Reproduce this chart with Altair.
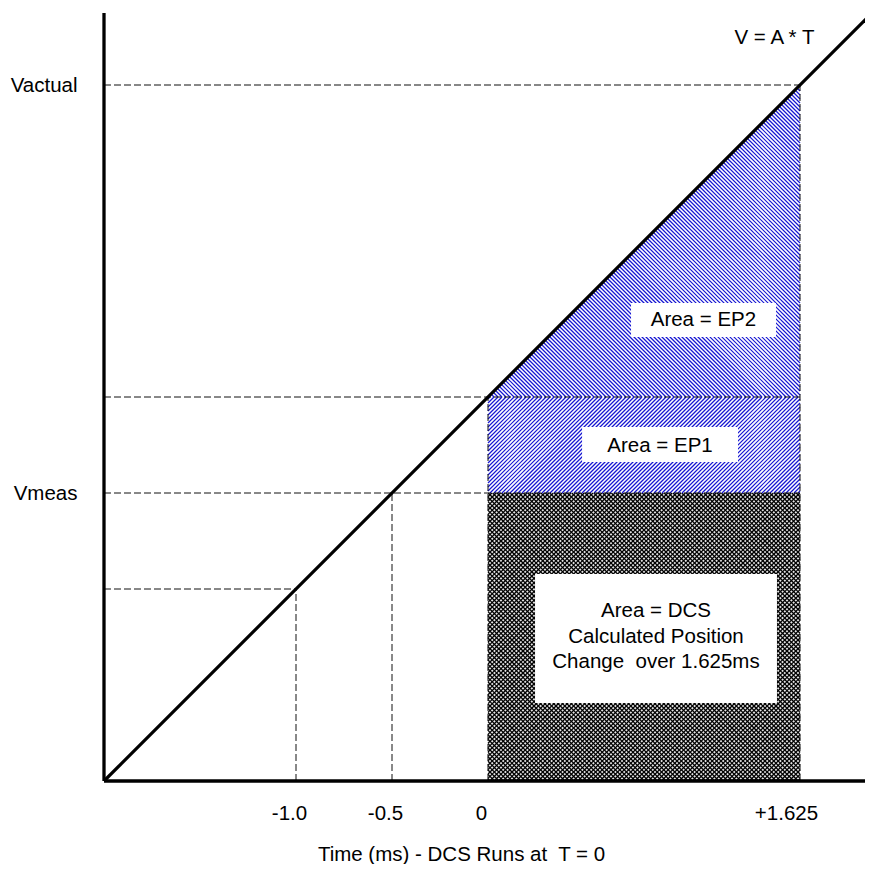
import altair as alt
import pandas as pd

# ---------------- data ----------------
x_tick_values = [-1.0, -0.5, 0.0, 1.625]
x_tick_labels = ["-1.0", "-0.5", "0", "+1.625"]
y_tick_values = [1.5, 3.625]
y_tick_labels = ["Vmeas", "Vactual"]

# V = A * T line (time, velocity)
line_t = [-2.0, 2.0]
line_v = [0.0, 4.0]

# axis lines
axis_t1 = [-2.0, -2.0]
axis_t2 = [2.0, -2.0]
axis_v1 = [0.0, 0.0]
axis_v2 = [0.0, 4.0]

# regions
t_dcs_start = 0.0
t_dcs_end = 1.625
v_meas = 1.5
v_at_zero = 2.0
v_actual = 3.625

# dashed guide segments
guide_t1 = [-2.0, -2.0, -2.0, -2.0, -1.0, -0.5, 0.0, 1.625]
guide_v1 = [3.625, 2.0, 1.5, 1.0, 0.0, 0.0, 0.0, 0.0]
guide_t2 = [1.625, 1.625, 1.625, -1.0, -1.0, -0.5, 0.0, 1.625]
guide_v2 = [3.625, 2.0, 1.5, 1.0, 1.0, 1.5, 2.0, 3.625]

# white label boxes
box_t1 = [0.745, 0.490, 0.245]
box_t2 = [1.500, 1.302, 1.505]
box_v1 = [2.3125, 1.661, 0.406]
box_v2 = [2.490, 1.844, 1.078]

# annotation texts
text_lines = ["Area = EP2", "Area = EP1", "Area = DCS", "Calculated Position",
              "Change\u00a0 over 1.625ms", "V = A * T"]
text_t = [1.122, 0.896, 0.875, 0.875, 0.875, 1.492]
text_v = [2.370, 1.714, 0.854, 0.719, 0.589, 3.838]

# ---------------- layout / style ----------------
FONT = "Liberation Sans"
FS = 20.5
PX = 192.0                 # pixels per data unit (both axes)
W = 761                    # plot width (page is 873 wide incl. 8px margins)
H = 768
X_DOM = [-2.0, -2.0 + W / PX]
Y_DOM = [0.0, H / PX]


def hatch_rect(t1, t2, v1, v2, step, direction):
    """45-degree hatch segments clipped to a rectangle (style only)."""
    rows = []
    if direction == "/":
        c = v1 - t2 + step / 2
        while c < v2 - t1:
            ta, tb = max(t1, v1 - c), min(t2, v2 - c)
            if tb > ta:
                rows.append((ta, ta + c, tb, tb + c))
            c += step
    else:
        c = v1 + t1 + step / 2
        while c < v2 + t2:
            ta, tb = max(t1, c - v2), min(t2, c - v1)
            if tb > ta:
                rows.append((ta, c - ta, tb, c - tb))
            c += step
    return pd.DataFrame(rows, columns=["t1", "v1", "t2", "v2"])


def hatch_triangle(t1, t2, v0, step):
    """'\\' hatch inside triangle bounded by V=v0, T=t2 and V=v0+(T-t1)."""
    rows = []
    c = v0 + t1 + step / 2
    while c < v0 + 2 * t2 - t1:
        ta = max(t1, (c - v0 + t1) / 2)
        tb = min(t2, c - v0)
        if tb > ta:
            rows.append((ta, c - ta, tb, c - tb))
        c += step
    return pd.DataFrame(rows, columns=["t1", "v1", "t2", "v2"])


def label_expr(vals, labs):
    expr = "''"
    for v, l in reversed(list(zip(vals, labs))):
        expr = f"datum.value == {v} ? '{l}' : ({expr})"
    return expr


xscale = alt.Scale(domain=X_DOM, nice=False, zero=False)
yscale = alt.Scale(domain=Y_DOM, nice=False, zero=False)

xaxis = alt.Axis(values=x_tick_values, labelExpr=label_expr(x_tick_values, x_tick_labels),
                 domain=False, ticks=False, tickSize=0, grid=False,
                 labelFont=FONT, labelFontSize=FS, labelColor="black",
                 labelPadding=22,
                 labelOffset={"condition": {"test": "datum.value == 1.625", "value": -14},
                              "value": -7},
                 labelFlush=False, labelOverlap=False,
                 title="Time (ms) - DCS Runs at\u00a0 T = 0", titleFont=FONT,
                 titleFontSize=FS, titleFontWeight="normal", titleColor="black",
                 titleX=357, titleY=79, titleAlign="center", titleBaseline="alphabetic")
yaxis = alt.Axis(values=y_tick_values, labelExpr=label_expr(y_tick_values, y_tick_labels),
                 domain=False, ticks=False, tickSize=0, grid=False,
                 labelFont=FONT, labelFontSize=FS, labelColor="black",
                 labelPadding=27, labelBaseline="middle", labelFlush=False,
                 labelOverlap=False, title=None)


def X(f):
    return alt.X(f, type="quantitative", scale=xscale, axis=xaxis)


def Y(f):
    return alt.Y(f, type="quantitative", scale=yscale, axis=yaxis)


def seg_layer(df, **mark):
    return alt.Chart(df).mark_rule(**mark).encode(
        x=X("t1"), x2="t2", y=Y("v1"), y2="v2")


BLUE = "#1515d2"
blue_step = 4.0 / PX
cross_step = 4.4 / PX

dcs_bg = alt.Chart(pd.DataFrame({"t1": [t_dcs_start], "t2": [t_dcs_end],
                                 "v1": [0.0], "v2": [v_meas]})).mark_rect(
    fill="#e6e6e6").encode(x=X("t1"), x2="t2", y=Y("v1"), y2="v2")
dcs_h1 = seg_layer(hatch_rect(t_dcs_start, t_dcs_end, 0.0, v_meas, cross_step, "/"),
                   stroke="black", strokeWidth=1.25)
dcs_h2 = seg_layer(hatch_rect(t_dcs_start, t_dcs_end, 0.0, v_meas, cross_step, "\\"),
                   stroke="black", strokeWidth=1.25)
ep1_h = seg_layer(hatch_rect(t_dcs_start, t_dcs_end, v_meas, v_at_zero, blue_step, "/"),
                  stroke=BLUE, strokeWidth=1.2)
ep2_h = seg_layer(hatch_triangle(t_dcs_start, t_dcs_end, v_at_zero, blue_step),
                  stroke=BLUE, strokeWidth=1.2)

boxes = alt.Chart(pd.DataFrame({"t1": box_t1, "t2": box_t2, "v1": box_v1, "v2": box_v2})).mark_rect(
    fill="white"
).encode(x=X("t1"), x2="t2", y=Y("v1"), y2="v2")

guides = seg_layer(pd.DataFrame({"t1": guide_t1, "t2": guide_t2, "v1": guide_v1, "v2": guide_v2}),
                   stroke="#111111", strokeWidth=1, strokeDash=[7, 3])

texts = alt.Chart(pd.DataFrame({"t": text_t, "v": text_v, "label": text_lines})).mark_text(
    font=FONT, fontSize=FS, color="black", align="center", baseline="alphabetic"
).encode(x=X("t"), y=Y("v"), text="label:N")

axes_lines = seg_layer(pd.DataFrame({"t1": axis_t1, "t2": axis_t2, "v1": axis_v1, "v2": axis_v2}),
                       stroke="black", strokeWidth=3.3)

diag = alt.Chart(pd.DataFrame({"t": line_t, "v": line_v})).mark_line(
    stroke="black", strokeWidth=3.2
).encode(x=X("t"), y=Y("v"))

chart = alt.layer(dcs_bg, dcs_h1, dcs_h2, ep1_h, ep2_h, boxes, guides, texts,
                  axes_lines, diag).properties(
    width=W, height=H,
    autosize=alt.AutoSizeParams(type="none"),
    padding={"left": 96, "top": 5, "right": 0, "bottom": 83},
    background="white",
).configure_view(stroke=None)

chart.save("out.html", embed_options={"renderer": "svg", "actions": False})
